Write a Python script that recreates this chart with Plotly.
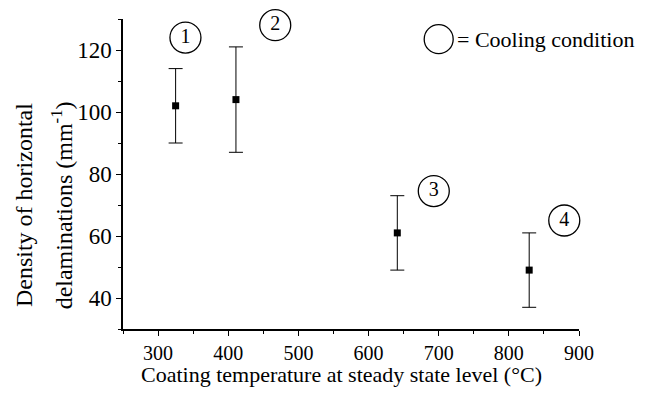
import plotly.graph_objects as go

# Data
temperature = [325, 411, 641, 829]
density = [102, 104, 61, 49]
err_plus = [12, 17, 12, 12]
err_minus = [12, 17, 12, 12]

# Cooling-condition labels (circled numbers) and their positions
cond_labels = ["1", "2", "3", "4"]
cond_x = [339, 467, 693, 879]
cond_y = [124, 128, 74.5, 65]
legend_x = [700]
legend_y = [123.5]
legend_text = "= Cooling condition"

x_title = "Coating temperature at steady state level (°C)"
y_title_1 = "Density of horizontal"
y_title_2 = "delaminations (mm<sup>-1</sup>)"

FONT = "Liberation Serif"

fig = go.Figure()
fig.add_trace(go.Scatter(
    x=temperature, y=density, mode="markers",
    marker=dict(symbol="square", size=7, color="black"),
    error_y=dict(type="data", array=err_plus, arrayminus=err_minus,
                 symmetric=False, color="black", thickness=1, width=7),
    showlegend=False,
))

fig.add_trace(go.Scatter(
    x=cond_x, y=cond_y, mode="markers+text", text=cond_labels,
    textposition="middle center",
    textfont=dict(family=FONT, size=20, color="black"),
    marker=dict(symbol="circle-open", size=31, color="black", line=dict(width=1.3, color="black")),
    cliponaxis=False, showlegend=False,
))
fig.add_trace(go.Scatter(
    x=legend_x, y=legend_y, mode="markers",
    marker=dict(symbol="circle-open", size=29, color="black", line=dict(width=1.3, color="black")),
    cliponaxis=False, showlegend=False,
))
fig.add_annotation(x=legend_x[0], y=legend_y[0], text=legend_text, showarrow=False,
                   xref="x", yref="y", xanchor="left", xshift=16,
                   font=dict(family=FONT, size=22, color="black"))

# axis titles as annotations
fig.add_annotation(x=-0.217, y=0.40, xref="paper", yref="paper", text=y_title_1,
                   textangle=-90, showarrow=False, xanchor="center", yanchor="middle",
                   font=dict(family=FONT, size=24, color="black"))
fig.add_annotation(x=-0.133, y=0.40, xref="paper", yref="paper", text=y_title_2,
                   textangle=-90, showarrow=False, xanchor="center", yanchor="middle",
                   font=dict(family=FONT, size=24, color="black"))
fig.add_annotation(x=0.48, y=-0.148, xref="paper", yref="paper", text=x_title,
                   showarrow=False, xanchor="center", yanchor="middle",
                   font=dict(family=FONT, size=22, color="black"))

axis_common = dict(showgrid=False, zeroline=False, showline=True, linecolor="black",
                   linewidth=1.5, ticks="outside", ticklen=5, tickwidth=1.3,
                   tickcolor="black", mirror=False, automargin=False)

fig.update_xaxes(range=[250, 900], tick0=300, dtick=100,
                 tickfont=dict(family=FONT, size=20, color="black"),
                 minor=dict(ticks="outside", ticklen=3, tickwidth=1, tickcolor="black", dtick=50, tick0=250),
                 **axis_common)
fig.update_yaxes(range=[30, 130], tick0=40, dtick=20,
                 tickfont=dict(family=FONT, size=23, color="black"),
                 minor=dict(ticks="outside", ticklen=3, tickwidth=1, tickcolor="black", dtick=10, tick0=30),
                 **axis_common)

# page body has an 8px margin, so the figure is sized/offset to compensate
fig.update_layout(width=662, height=398, margin=dict(l=115, r=91, t=11, b=77),
                  plot_bgcolor="white", paper_bgcolor="white",
                  font=dict(family=FONT, color="black"))

fig.write_html("out.html")
